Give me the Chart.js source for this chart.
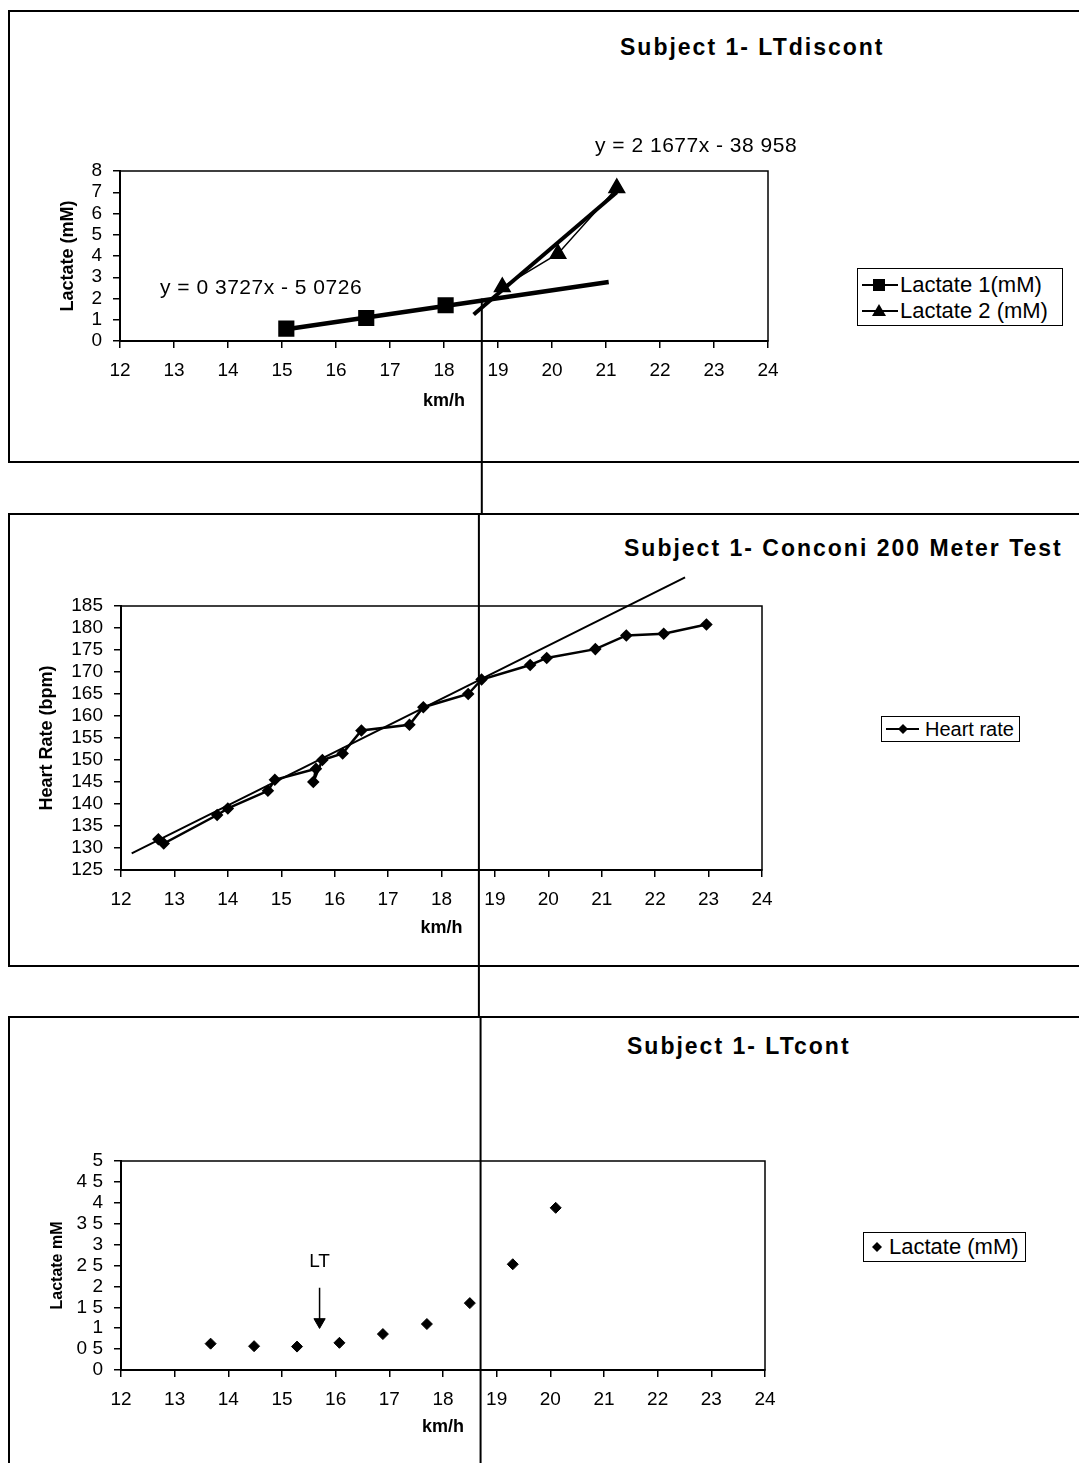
<!DOCTYPE html>
<html>
<head>
<meta charset="utf-8">
<script src="https://cdn.jsdelivr.net/npm/chart.js@4.4.0/dist/chart.umd.min.js"></script>
<style>
  html, body { margin: 0; padding: 0; background: #fff; }
  body { width: 1079px; height: 1463px; position: relative; overflow: hidden;
         font-family: "Liberation Sans", Arial, sans-serif; color: #000; }
  .panel { position: absolute; left: 8px; width: 1100px; border: 2px solid #000; border-right: none; box-sizing: border-box; }
  .wrap { position: absolute; left: 0; width: 1079px; }
  .wrap canvas { display: block; }
  .title { position: absolute; font-weight: bold; font-size: 23px; line-height: 23px; white-space: nowrap; letter-spacing: 2px; }
  .eq { position: absolute; font-size: 21px; line-height: 21px; white-space: nowrap; letter-spacing: 0.5px; }
  .legend { position: absolute; border: 1.5px solid #000; box-sizing: border-box; background: #fff;
            font-size: 22px; line-height: 22px; white-space: nowrap; }
  .legend .row { position: relative; display: flex; align-items: center; }
  .legend svg { display: block; flex: none; }
</style>
</head>
<body>

<div class="panel" style="top:10px;height:453px"></div>
<div class="panel" style="top:513px;height:454px"></div>
<div class="panel" style="top:1016px;height:500px"></div>

<div class="title" style="left:620px;top:36px">Subject 1- LTdiscont</div>
<div class="title" style="left:624px;top:537px">Subject 1- Conconi 200 Meter Test</div>
<div class="title" style="left:627px;top:1035px">Subject 1- LTcont</div>

<div class="wrap" style="top:0;height:514px"><canvas id="c1" width="1079" height="514"></canvas></div>
<div class="wrap" style="top:514px;height:504px"><canvas id="c2" width="1079" height="504"></canvas></div>
<div class="wrap" style="top:1018px;height:445px"><canvas id="c3" width="1079" height="445"></canvas></div>

<div class="eq" style="left:595px;top:134px">y = 2 1677x - 38 958</div>
<div class="eq" style="left:160px;top:276px">y = 0 3727x - 5 0726</div>

<div class="legend" style="left:857px;top:268px;width:206px;height:58px;padding-top:3px">
  <div class="row" style="height:26px">
    <svg width="40" height="20"><line x1="4" y1="10" x2="40" y2="10" stroke="#000" stroke-width="2"/><rect x="15" y="4" width="12" height="12" fill="#000"/></svg>
    <span style="margin-left:2px">Lactate 1(mM)</span>
  </div>
  <div class="row" style="height:26px">
    <svg width="40" height="20"><line x1="4" y1="10" x2="40" y2="10" stroke="#000" stroke-width="2"/><polygon points="21,3 28,15 14,15" fill="#000"/></svg>
    <span style="margin-left:2px">Lactate 2 (mM)</span>
  </div>
</div>

<div class="legend" style="left:881px;top:716px;width:139px;height:26px;font-size:20px;line-height:20px">
  <div class="row" style="height:23px">
    <svg width="40" height="20"><line x1="4" y1="10" x2="37" y2="10" stroke="#000" stroke-width="2"/><polygon points="21,5 26,10 21,15 16,10" fill="#000"/></svg>
    <span style="margin-left:3px">Heart rate</span>
  </div>
</div>

<div class="legend" style="left:863px;top:1232px;width:163px;height:30px">
  <div class="row" style="height:27px">
    <svg width="22" height="20"><polygon points="13,5 18,10 13,15 8,10" fill="#000"/></svg>
    <span style="margin-left:3px">Lactate (mM)</span>
  </div>
</div>

<script>
// speed axis, shared by all three charts
var kmhMin = 12;
var kmhMax = 24;
var ltSpeed = 18.7;   // vertical threshold line through all panels

// Subject 1 - LTdiscont
var lact1Speed = [15.08, 16.56, 18.03];
var lact1Value = [0.58, 1.08, 1.68];
var lact2Speed = [19.08, 20.11, 21.2];
var lact2Value = [2.54, 4.11, 7.2];
var trend1Speed = [15.08, 21.05];
var trend1Value = [0.55, 2.78];
var trend2Speed = [18.55, 21.2];
var trend2Value = [1.25, 7.0];

// Subject 1 - Conconi 200 Meter Test
var hrSpeed = [12.7, 12.8, 13.8, 14.0, 14.75, 14.88, 15.65, 15.6, 15.77, 16.15, 16.5,
               17.4, 17.66, 18.5, 18.75, 19.66, 19.97, 20.88, 21.46, 22.16, 22.96];
var hrBpm = [132, 131, 137.5, 139, 143, 145.5, 148, 145, 150, 151.5, 156.7,
             158, 162, 165, 168.3, 171.6, 173.2, 175.2, 178.3, 178.7, 180.8];
var hrTrendSpeed = [12.2, 22.56];
var hrTrendBpm = [128.8, 191.5];

// Subject 1 - LTcont
var lcSpeed = [13.67, 14.48, 15.28, 16.07, 16.88, 17.7, 18.5, 19.3, 20.1];
var lcValue = [0.63, 0.57, 0.56, 0.65, 0.86, 1.1, 1.6, 2.53, 3.88];
var lcTickLabels = ['0', '0 5', '1', '1 5', '2', '2 5', '3', '3 5', '4', '4 5', '5'];
var ltArrowSpeed = 15.7;
var ltArrowFrom = 1.97;
var ltArrowHead = 1.15;
var ltLabelValue = 2.6;

var FONT = '"Liberation Sans", Arial, sans-serif';
Chart.defaults.font.family = FONT;
Chart.defaults.color = '#000';

function pts(xs, ys) {
    return xs.map(function(x, i){ return {x: x, y: ys[i]}; });
}

// frame round the plot area (top and right edges)
var plotFrame = {
    id: 'plotFrame',
    beforeDatasetsDraw: function(chart){
        var a = chart.chartArea, ctx = chart.ctx;
        ctx.save();
        ctx.strokeStyle = '#000';
        ctx.lineWidth = 1.5;
        ctx.strokeRect(a.left, a.top, a.right - a.left, a.bottom - a.top);
        ctx.restore();
    }
};

function xAxis(height, titlePad) {
    return {
        type: 'linear', min: kmhMin, max: kmhMax,
        ticks: { stepSize: 1, font: { size: 19 }, padding: 11, maxRotation: 0, autoSkip: false },
        grid: { display: true, drawOnChartArea: false, drawTicks: true, tickLength: 7, color: '#000', lineWidth: 1.5 },
        border: { display: true, color: '#000', width: 2 },
        title: { display: true, text: 'km/h', font: { size: 18, weight: 'bold', lineHeight: 1 }, padding: { top: 0, bottom: titlePad } },
        afterFit: function(s){ s.height = height; }
    };
}

function yAxis(min, max, step, title, titleSize, titlePad, width) {
    return {
        type: 'linear', min: min, max: max,
        ticks: { stepSize: step, font: { size: 19 }, padding: 11, autoSkip: false },
        grid: { display: true, drawOnChartArea: false, drawTicks: true, tickLength: 7, color: '#000', lineWidth: 1.5 },
        border: { display: true, color: '#000', width: 2 },
        title: { display: true, text: title, font: { size: titleSize, weight: 'bold', lineHeight: 1 }, padding: { top: titlePad, bottom: 0 } },
        afterFit: function(s){ s.width = width; }
    };
}

var baseOpts = {
    responsive: false,
    animation: false,
    events: [],
    plugins: { legend: { display: false }, tooltip: { enabled: false } }
};

// ---- chart 1 ----
var opts1 = Object.assign({}, baseOpts, {
    layout: { padding: { left: 0, top: 171, right: 311, bottom: 83 } },
    scales: { x: xAxis(90, 20.5), y: yAxis(0, 8, 1, 'Lactate (mM)', 18, 59, 120) }
});
new Chart(document.getElementById('c1'), {
    type: 'scatter',
    data: { datasets: [
        { label: 'Lactate 1(mM)', data: pts(lact1Speed, lact1Value), showLine: true,
          borderColor: '#000', backgroundColor: '#000', borderWidth: 2,
          pointStyle: 'rect', pointRadius: 10 },
        { label: 'Lactate 2 (mM)', data: pts(lact2Speed, lact2Value), showLine: true,
          borderColor: '#000', backgroundColor: '#000', borderWidth: 1.5,
          pointStyle: 'triangle', pointRadius: 9 },
        { label: 'trend 1', data: pts(trend1Speed, trend1Value), showLine: true,
          borderColor: '#000', borderWidth: 4.5, pointRadius: 0, clip: false },
        { label: 'trend 2', data: pts(trend2Speed, trend2Value), showLine: true,
          borderColor: '#000', borderWidth: 4, pointRadius: 0, clip: false },
        { label: 'LT', data: pts([ltSpeed, ltSpeed], [2.0, -20]), showLine: true,
          borderColor: '#000', borderWidth: 2, pointRadius: 0, clip: false }
    ]},
    options: opts1,
    plugins: [plotFrame]
});

// ---- chart 2 ----
var opts2 = Object.assign({}, baseOpts, {
    layout: { padding: { left: 0, top: 92, right: 317, bottom: 58 } },
    scales: { x: xAxis(90, 22.5), y: yAxis(125, 185, 5, 'Heart Rate (bpm)', 18, 38, 121) }
});
new Chart(document.getElementById('c2'), {
    type: 'scatter',
    data: { datasets: [
        { label: 'Heart rate', data: pts(hrSpeed, hrBpm), showLine: true,
          borderColor: '#000', backgroundColor: '#000', borderWidth: 2.5,
          pointStyle: 'rectRot', pointRadius: 4.5 },
        { label: 'trend', data: pts(hrTrendSpeed, hrTrendBpm), showLine: true,
          borderColor: '#000', borderWidth: 2, pointRadius: 0, clip: false },
        { label: 'LT', data: pts([ltSpeed, ltSpeed], [400, 0]), showLine: true,
          borderColor: '#000', borderWidth: 2, pointRadius: 0, clip: false }
    ]},
    options: opts2,
    plugins: [plotFrame]
});

// ---- chart 3 ----
var ltLabel = {
    id: 'ltLabel',
    afterDatasetsDraw: function(chart){
        var ctx = chart.ctx;
        var x = chart.scales.x.getPixelForValue(ltArrowSpeed);
        var y = chart.scales.y.getPixelForValue(ltLabelValue);
        ctx.save();
        ctx.fillStyle = '#000';
        ctx.font = '19px ' + FONT;
        ctx.textAlign = 'center';
        ctx.textBaseline = 'middle';
        ctx.fillText('LT', x, y);
        ctx.restore();
    }
};
var y3 = yAxis(0, 5, 0.5, 'Lactate mM', 16, 50, 121);
y3.ticks.callback = function(v, i){ return lcTickLabels[i]; };
var opts3 = Object.assign({}, baseOpts, {
    layout: { padding: { left: 0, top: 143, right: 314, bottom: 13 } },
    scales: { x: xAxis(80, 13.5), y: y3 }
});
new Chart(document.getElementById('c3'), {
    type: 'scatter',
    data: { datasets: [
        { label: 'Lactate (mM)', data: pts(lcSpeed, lcValue), showLine: false,
          borderColor: '#000', backgroundColor: '#000',
          pointStyle: 'rectRot', pointRadius: 5.5 },
        { label: 'arrow', data: pts([ltArrowSpeed, ltArrowSpeed], [ltArrowFrom, ltArrowHead]), showLine: true,
          borderColor: '#000', borderWidth: 1.5, pointRadius: 0 },
        { label: 'arrow head', data: pts([ltArrowSpeed], [ltArrowHead]), showLine: false,
          borderColor: '#000', backgroundColor: '#000', pointStyle: 'triangle', rotation: 180, pointRadius: 6.5 },
        { label: 'LT', data: pts([ltSpeed, ltSpeed], [40, -20]), showLine: true,
          borderColor: '#000', borderWidth: 2, pointRadius: 0, clip: false }
    ]},
    options: opts3,
    plugins: [plotFrame, ltLabel]
});
</script>
</body>
</html>
